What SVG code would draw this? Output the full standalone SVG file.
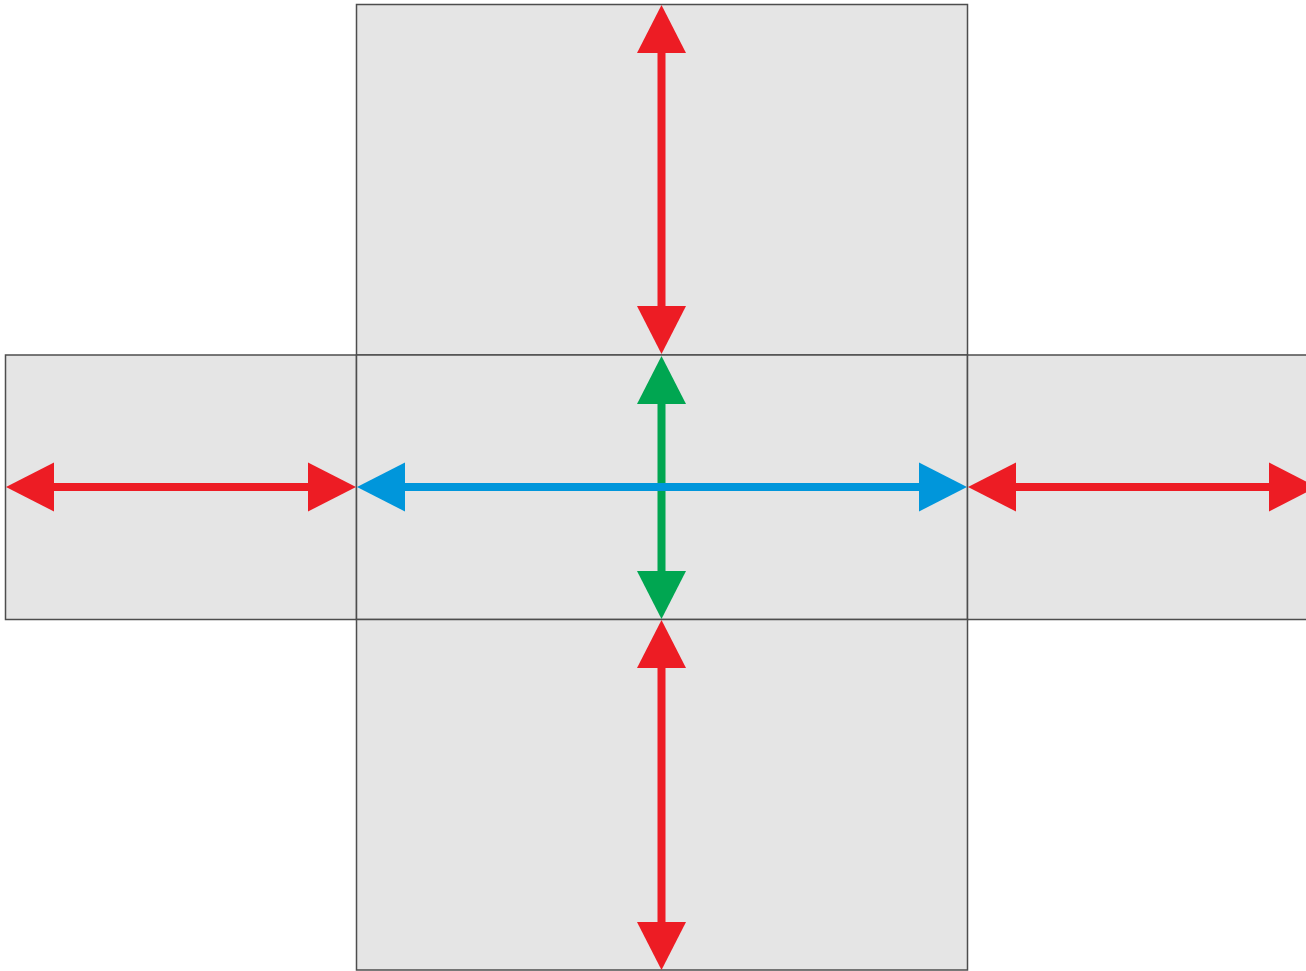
<svg xmlns="http://www.w3.org/2000/svg" width="1306" height="971" viewBox="0 0 1306 971">
<style>
.panel{fill:#e5e5e5;stroke:#4d4d4d;stroke-width:1.5}
.red{stroke:#ed1c24;stroke-width:8;fill:none;marker-start:url(#hr);marker-end:url(#hr)}
.blue{stroke:#0096db;stroke-width:8;fill:none;marker-start:url(#hb);marker-end:url(#hb)}
.green{stroke:#00a651;stroke-width:8;fill:none;marker-start:url(#hg);marker-end:url(#hg)}
</style>
<defs>
<marker id="hr" markerUnits="userSpaceOnUse" markerWidth="49" markerHeight="50" refX="0" refY="24.5" orient="auto-start-reverse" overflow="visible"><path d="M0,0 L48,24.5 L0,49 Z" fill="#ed1c24"/></marker>
<marker id="hb" markerUnits="userSpaceOnUse" markerWidth="49" markerHeight="50" refX="0" refY="24.5" orient="auto-start-reverse" overflow="visible"><path d="M0,0 L48,24.5 L0,49 Z" fill="#0096db"/></marker>
<marker id="hg" markerUnits="userSpaceOnUse" markerWidth="49" markerHeight="50" refX="0" refY="24.5" orient="auto-start-reverse" overflow="visible"><path d="M0,0 L48,24.5 L0,49 Z" fill="#00a651"/></marker>
</defs>
<rect width="1306" height="971" fill="#ffffff"/>
<g id="top"><rect class="panel" x="356.5" y="4.5" width="611" height="350.5"/></g>
<g id="left"><rect class="panel" x="5.5" y="355" width="351" height="264.5"/></g>
<g id="center"><rect class="panel" x="356.5" y="355" width="611" height="264.5"/></g>
<g id="right"><rect class="panel" x="967.5" y="355" width="360" height="264.5"/></g>
<g id="bottom"><rect class="panel" x="356.5" y="619.5" width="611" height="350.5"/></g>
<g id="connectors">
<line class="red" x1="661.5" y1="53" x2="661.5" y2="306"/>
<line class="green" x1="661.5" y1="404" x2="661.5" y2="571"/>
<line class="red" x1="661.5" y1="668" x2="661.5" y2="922"/>
<line class="red" x1="54" y1="487" x2="308" y2="487"/>
<line class="blue" x1="405" y1="487" x2="919" y2="487"/>
<line class="red" x1="1016" y1="487" x2="1269" y2="487"/>
</g>
</svg>
